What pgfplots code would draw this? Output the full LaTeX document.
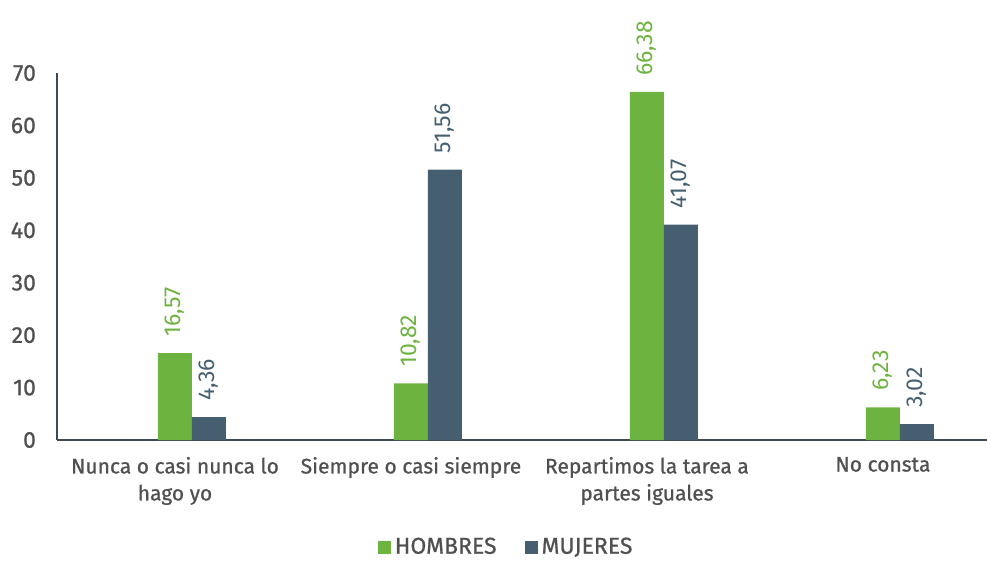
\documentclass[border=0pt]{standalone}
\usepackage{fontspec}
\setmainfont{Fira Sans}
\newfontfamily\medfont[FakeBold=0.8]{Fira Sans}
\usepackage{pgfplots}
\pgfplotsset{compat=1.18}
\definecolor{hgreen}{HTML}{6DB33F}
\definecolor{mslate}{HTML}{455F70}
\definecolor{axcol}{HTML}{3E4A52}
\definecolor{txt}{HTML}{505050}
\begin{document}
\begin{tikzpicture}
\useasboundingbox (-28.5pt,-61.5pt) rectangle (465pt,220pt);
\begin{axis}[
  at={(0,0)}, anchor=south west,
  scale only axis, width=465pt, height=183.5pt,
  xmin=-0.572, xmax=3.369, ymin=0, ymax=70,
  axis x line=bottom, axis y line=left,
  axis line style={-, axcol, line width=1.2pt},
  ytick={0,10,...,70},
  xtick={-0.072,0.928,1.928,2.928},
  xticklabels={Nunca o casi nunca lo\\hago yo, Siempre o casi siempre, Repartimos la tarea a\\partes iguales, No consta},
  major tick length=0pt,
  /pgf/number format/assume math mode=true,
  yticklabel style={font=\medfont\fontsize{11.5}{13}\selectfont, text=txt, xshift=-7pt},
  xticklabel style={font=\medfont\fontsize{10.5}{13.5}\selectfont, text=txt, align=center, yshift=-5pt},
  ybar, bar width=0.144,
  nodes near coords={\pgfmathprintnumber[use comma, fixed, fixed zerofill, precision=2, assume math mode=true]{\pgfplotspointmeta}},
  every node near coord/.append style={rotate=90, anchor=west, font=\fontsize{11.5}{13}\selectfont, inner xsep=8pt},
  legend style={draw=none, at={(0.484,-0.292)}, anchor=center, legend columns=2, inner sep=1pt,
    font=\medfont\fontsize{11.5}{13}\selectfont, text=txt, /tikz/every even column/.append style={column sep=12pt}},
  legend image code/.code={\fill[#1] (0pt,-3.25pt) rectangle (6.5pt,3.25pt);},
]
\addplot[fill=hgreen, draw=none, bar shift=-0.072, every node near coord/.append style={text=hgreen}]
  coordinates {(0,16.57) (1,10.82) (2,66.38) (3,6.23)};
\addplot[fill=mslate, draw=none, bar shift=0.072, every node near coord/.append style={text=mslate}]
  coordinates {(0,4.36) (1,51.56) (2,41.07) (3,3.02)};
\legend{HOMBRES, MUJERES}
\end{axis}
\end{tikzpicture}
\end{document}
